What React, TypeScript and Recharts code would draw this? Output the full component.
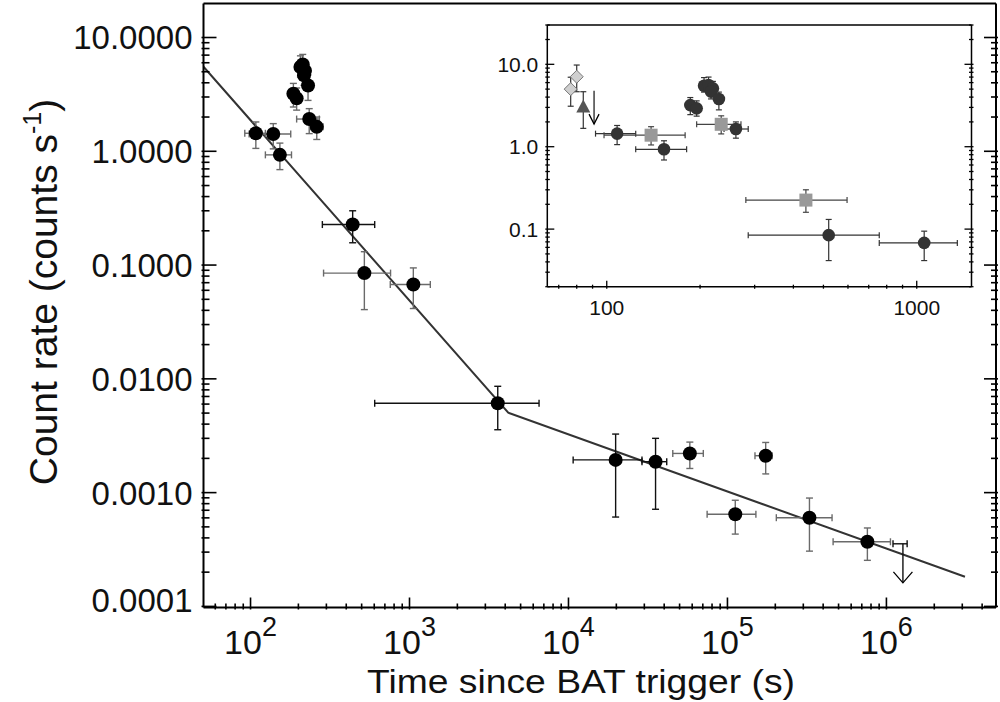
import React from "react";
import { ComposedChart, Scatter, Line, XAxis, YAxis, ErrorBar } from "recharts";

// ---------- main light curve ----------
// points drawn with black error bars
const kTime = [439, 3590, 19800, 35300];
const kTimeLo = [283, 604, 10700, 29000];
const kTimeHi = [604, 6530, 29000, 41500];
const kRate = [0.227, 0.0061, 0.00194, 0.00187];
const kRateLo = [0.157, 0.00357, 0.00061, 0.000714];
const kRateHi = [0.3, 0.0086, 0.00327, 0.003];

// points drawn with grey error bars
const gTime = [108, 139, 153, 186, 195, 206, 213, 220, 217, 230, 234, 261, 520, 1057, 58000, 112000, 174000, 328000, 759000];
const gTimeLo = [92, 98, 124, 186, 195, 206, 213, 220, 217, 230, 195, 239, 288, 757, 45300, 74500, 149000, 203000, 462000];
const gTimeHi = [124, 179, 181, 186, 195, 206, 213, 220, 217, 230, 271, 286, 760, 1352, 70500, 151000, 191000, 455000, 1060000];
const gRate = [1.44, 1.42, 0.93, 3.2, 2.92, 5.5, 5.8, 5.1, 4.66, 3.79, 1.92, 1.64, 0.085, 0.0675, 0.00221, 0.000645, 0.00211, 0.000602, 0.00037];
const gRateLo = [1.06, 1.05, 0.69, 2.45, 2.3, 4.5, 4.8, 4.2, 3.8, 2.8, 1.43, 1.27, 0.0406, 0.0415, 0.00163, 0.000432, 0.00146, 0.000306, 0.000254];
const gRateHi = [1.81, 1.75, 1.18, 3.95, 3.6, 6.9, 7.1, 6.2, 5.6, 4.7, 2.37, 2.0, 0.131, 0.0944, 0.00278, 0.000857, 0.00276, 0.000896, 0.000489];

// upper limit
const ulTime = [1270000];
const ulTimeLo = [1100000];
const ulTimeHi = [1350000];
const ulTop = [0.000355];
const ulTip = [0.000161];

// broken power-law fit
const fitTime = [50.6, 4180, 3120000];
const fitRate = [5.53, 0.00504, 0.000182];

const xMajors = [100, 1000, 10000, 100000, 1000000];
const xMajorExp = ["2", "3", "4", "5", "6"];
const yMajors = [0.0001, 0.001, 0.01, 0.1, 1, 10];
const yMajorLabels = ["0.0001", "0.0010", "0.0100", "0.1000", "1.0000", "10.0000"];

// ---------- inset ----------
const iCirT = [108, 153, 186, 195, 206, 213, 220, 217, 230, 261, 520, 1057];
const iCirTLo = [92, 124, 186, 195, 206, 213, 220, 217, 230, 239, 286, 757];
const iCirTHi = [124, 181, 186, 195, 206, 213, 220, 217, 230, 286, 757, 1352];
const iCirR = [1.44, 0.93, 3.2, 2.92, 5.5, 5.6, 5.1, 4.66, 3.79, 1.64, 0.0845, 0.068];
const iCirRLo = [1.06, 0.69, 2.45, 2.35, 4.6, 4.7, 4.2, 3.8, 2.8, 1.27, 0.0415, 0.0415];
const iCirRHi = [1.81, 1.18, 3.95, 3.6, 6.9, 7.0, 6.2, 5.6, 4.6, 2.0, 0.131, 0.0944];

const iSqT = [139, 234, 439];
const iSqTLo = [98, 195, 281];
const iSqTHi = [179, 271, 596];
const iSqR = [1.38, 1.87, 0.225];
const iSqRLo = [1.05, 1.43, 0.16];
const iSqRHi = [1.75, 2.37, 0.3];

const iDiaT = [76.5, 80];
const iDiaR = [5.0, 7.07];
const iDiaRLo = [3.1, 4.65];
const iDiaRHi = [6.97, 9.8];

const iTriT = [84];
const iTriR = [3.0];
const iTriRLo = [1.67];
const iTriRHi = [4.65];

const iUlT = [91];
const iUlTop = [4.78];
const iUlTip = [1.88];

const iXMajors = [100, 1000];
const iXLabels = ["100", "1000"];
const iYMajors = [0.1, 1, 10];
const iYLabels = ["0.1", "1.0", "10.0"];

const X_DOM: [number, number] = [50.6, 4890000];
const Y_DOM: [number, number] = [0.0000978, 19.9];
const IX_DOM: [number, number] = [64.3, 1502];
const IY_DOM: [number, number] = [0.02, 30];

const rows = (t: number[], tl: number[], th: number[], r: number[], rl: number[], rh: number[]) =>
  t.map((x, i) => ({ x, y: r[i], ex: [x - tl[i], th[i] - x], ey: [r[i] - rl[i], rh[i] - r[i]] }));

const logTicks = (lo: number, hi: number) => {
  const out: number[] = [];
  for (let e = Math.floor(Math.log10(lo)); e <= Math.ceil(Math.log10(hi)); e++) {
    for (let m = 1; m < 10; m++) {
      const v = +(m * Math.pow(10, e)).toPrecision(6);
      if (v >= lo && v <= hi) out.push(v);
    }
  }
  return out;
};

const findIdx = (arr: number[], v: number) => arr.findIndex((a) => Math.abs(v / a - 1) < 1e-6);

const makeTick = (side: "b" | "t" | "l" | "r", major: number, minor: number, majors: number[], labels?: (i: number, x: number, y: number) => React.ReactNode, sw = 1.6) =>
  (p: any) => {
    const { x, y, payload } = p;
    const i = findIdx(majors, payload.value);
    const len = i >= 0 ? major : minor;
    let x2 = x, y2 = y;
    if (side === "b") y2 = y - len;
    if (side === "t") y2 = y + len;
    if (side === "l") x2 = x + len;
    if (side === "r") x2 = x - len;
    return (
      <g>
        <line x1={x} y1={y} x2={x2} y2={y2} stroke="#000" strokeWidth={sw} />
        {i >= 0 && labels ? labels(i, x, y) : null}
      </g>
    );
  };

const mainBottom = makeTick("b", 12, 6, xMajors, (i, x, y) => (
  <text x={x} y={y + 44} textAnchor="middle" fontSize={34} fill="#111">
    10<tspan dy={-18} fontSize={27}>{xMajorExp[i]}</tspan>
  </text>
));
const mainTop = makeTick("t", 12, 6, xMajors);
const mainLeft = makeTick("l", 15, 8, yMajors, (i, x, y) => (
  <text x={x - 9} y={i === 0 ? y - 6 : y} dy="0.36em" textAnchor="end" fontSize={33} fill="#111">
    {yMajorLabels[i]}
  </text>
));
const mainRight = makeTick("r", 14, 7, yMajors);

const insetBottom = makeTick("b", 8, 4, iXMajors, (i, x, y) => (
  <text x={x} y={y + 26} textAnchor="middle" fontSize={21} fill="#111">
    {iXLabels[i]}
  </text>
), 1.3);
const insetTop = makeTick("t", 8, 4, iXMajors, undefined, 1.3);
const insetLeft = makeTick("l", 9, 4.5, iYMajors, (i, x, y) => (
  <text x={x - 7} y={y} dy="0.36em" textAnchor="end" fontSize={21} fill="#111">
    {iYLabels[i]}
  </text>
), 1.3);
const insetRight = makeTick("r", 9, 4.5, iYMajors, undefined, 1.3);

const dot = (r: number, fill: string) => (p: any) => <circle cx={p.cx} cy={p.cy} r={r} fill={fill} />;
const square = (p: any) => <rect x={p.cx - 6.5} y={p.cy - 6.5} width={13} height={13} fill="#999" />;
const diamond = (p: any) => (
  <polygon points={`${p.cx},${p.cy - 6.5} ${p.cx + 6.5},${p.cy} ${p.cx},${p.cy + 6.5} ${p.cx - 6.5},${p.cy}`} fill="#cfcfcf" stroke="#777" strokeWidth={1} />
);
const triangle = (p: any) => (
  <polygon points={`${p.cx},${p.cy - 8} ${p.cx + 7},${p.cy + 5} ${p.cx - 7},${p.cy + 5}`} fill="#555" />
);
const none = () => <g />;
const arrowHead = (w: number, h: number) => (p: any) => (
  <polyline points={`${p.cx - w},${p.cy - h} ${p.cx},${p.cy} ${p.cx + w},${p.cy - h}`} fill="none" stroke="#000" strokeWidth={1.3} />
);

const kRows = rows(kTime, kTimeLo, kTimeHi, kRate, kRateLo, kRateHi);
const gRows = rows(gTime, gTimeLo, gTimeHi, gRate, gRateLo, gRateHi);
const ulRows = ulTime.map((x, i) => ({ x, y: ulTop[i], ex: [x - ulTimeLo[i], ulTimeHi[i] - x], ey: [ulTop[i] - ulTip[i], 0] }));
const ulTipRows = ulTime.map((x, i) => ({ x, y: ulTip[i] }));
const fitRows = fitTime.map((x, i) => ({ x, y: fitRate[i] }));

const iCirRows = rows(iCirT, iCirTLo, iCirTHi, iCirR, iCirRLo, iCirRHi);
const iSqRows = rows(iSqT, iSqTLo, iSqTHi, iSqR, iSqRLo, iSqRHi);
const iDiaRows = rows(iDiaT, iDiaT, iDiaT, iDiaR, iDiaRLo, iDiaRHi);
const iTriRows = rows(iTriT, iTriT, iTriT, iTriR, iTriRLo, iTriRHi);
const iUlRows = iUlT.map((x, i) => ({ x, y: iUlTop[i], ey: [iUlTop[i] - iUlTip[i], 0] }));
const iUlTipRows = iUlT.map((x, i) => ({ x, y: iUlTip[i] }));

const frame = { stroke: "#000", strokeWidth: 2 };
const iframe = { stroke: "#000", strokeWidth: 1.5 };

function MainChart() {
  const xt = logTicks(X_DOM[0], X_DOM[1]);
  const yt = logTicks(Y_DOM[0], Y_DOM[1]);
  const ax = { type: "number" as const, scale: "log" as const, allowDataOverflow: true, interval: 0 as const, tickSize: 0, tickLine: false };
  return (
    <ComposedChart width={1000} height={702} margin={{ top: 2.5, right: 3, bottom: 93.5, left: 202.5 }}>
      <XAxis xAxisId="b" dataKey="x" {...ax} domain={X_DOM} ticks={xt} height={1} tick={mainBottom} axisLine={frame} />
      <XAxis xAxisId="t" orientation="top" {...ax} domain={X_DOM} ticks={xt} height={1} tick={mainTop} axisLine={frame} />
      <YAxis yAxisId="l" dataKey="y" {...ax} domain={Y_DOM} ticks={yt} width={1} tick={mainLeft} axisLine={frame} />
      <YAxis yAxisId="r" orientation="right" {...ax} domain={Y_DOM} ticks={yt} width={1} tick={mainRight} axisLine={frame} />
      <Line xAxisId="b" yAxisId="l" data={fitRows} dataKey="y" type="linear" stroke="#333" strokeWidth={2} dot={false} isAnimationActive={false} />
      <Scatter xAxisId="b" yAxisId="l" data={gRows} shape={dot(7, "#000")} isAnimationActive={false}>
        <ErrorBar dataKey="ex" direction="x" width={3.5} stroke="#6a6a6a" strokeWidth={1.4} />
        <ErrorBar dataKey="ey" direction="y" width={3.5} stroke="#6a6a6a" strokeWidth={1.4} />
      </Scatter>
      <Scatter xAxisId="b" yAxisId="l" data={kRows} shape={dot(7, "#000")} isAnimationActive={false}>
        <ErrorBar dataKey="ex" direction="x" width={3.5} stroke="#111" strokeWidth={1.4} />
        <ErrorBar dataKey="ey" direction="y" width={3.5} stroke="#111" strokeWidth={1.4} />
      </Scatter>
      <Scatter xAxisId="b" yAxisId="l" data={ulRows} shape={none} isAnimationActive={false}>
        <ErrorBar dataKey="ex" direction="x" width={3.5} stroke="#111" strokeWidth={1.4} />
        <ErrorBar dataKey="ey" direction="y" width={0} stroke="#111" strokeWidth={1.4} />
      </Scatter>
      <Scatter xAxisId="b" yAxisId="l" data={ulTipRows} shape={arrowHead(9.5, 11)} isAnimationActive={false} />
    </ComposedChart>
  );
}

function InsetChart() {
  const xt = logTicks(IX_DOM[0], IX_DOM[1]);
  const yt = logTicks(IY_DOM[0], IY_DOM[1]);
  const ax = { type: "number" as const, scale: "log" as const, allowDataOverflow: true, interval: 0 as const, tickSize: 0, tickLine: false };
  return (
    <ComposedChart width={520} height={320} margin={{ top: 14, right: 17.5, bottom: 42.3, left: 76.3 }}>
      <XAxis xAxisId="b" dataKey="x" {...ax} domain={IX_DOM} ticks={xt} height={1} tick={insetBottom} axisLine={iframe} />
      <XAxis xAxisId="t" orientation="top" {...ax} domain={IX_DOM} ticks={xt} height={1} tick={insetTop} axisLine={iframe} />
      <YAxis yAxisId="l" dataKey="y" {...ax} domain={IY_DOM} ticks={yt} width={1} tick={insetLeft} axisLine={iframe} />
      <YAxis yAxisId="r" orientation="right" {...ax} domain={IY_DOM} ticks={yt} width={1} tick={insetRight} axisLine={iframe} />
      <Scatter xAxisId="b" yAxisId="l" data={iDiaRows} shape={diamond} isAnimationActive={false}>
        <ErrorBar dataKey="ey" direction="y" width={3} stroke="#333" strokeWidth={1.2} />
      </Scatter>
      <Scatter xAxisId="b" yAxisId="l" data={iTriRows} shape={triangle} isAnimationActive={false}>
        <ErrorBar dataKey="ey" direction="y" width={3} stroke="#333" strokeWidth={1.2} />
      </Scatter>
      <Scatter xAxisId="b" yAxisId="l" data={iUlRows} shape={none} isAnimationActive={false}>
        <ErrorBar dataKey="ey" direction="y" width={0} stroke="#111" strokeWidth={1.2} />
      </Scatter>
      <Scatter xAxisId="b" yAxisId="l" data={iUlTipRows} shape={arrowHead(5, 10)} isAnimationActive={false} />
      <Scatter xAxisId="b" yAxisId="l" data={iCirRows} shape={dot(6.3, "#333")} isAnimationActive={false}>
        <ErrorBar dataKey="ex" direction="x" width={3} stroke="#333" strokeWidth={1.2} />
        <ErrorBar dataKey="ey" direction="y" width={3} stroke="#333" strokeWidth={1.2} />
      </Scatter>
      <Scatter xAxisId="b" yAxisId="l" data={iSqRows} shape={square} isAnimationActive={false}>
        <ErrorBar dataKey="ex" direction="x" width={3} stroke="#444" strokeWidth={1.2} />
        <ErrorBar dataKey="ey" direction="y" width={3} stroke="#444" strokeWidth={1.2} />
      </Scatter>
    </ComposedChart>
  );
}

export default function App() {
  return (
    <div style={{ position: "absolute", left: 0, top: 0, width: 1000, height: 702, background: "#fff", fontFamily: "'Liberation Sans', Arial, sans-serif" }}>
      <div style={{ position: "absolute", left: 0, top: 0 }}>
        <MainChart />
      </div>
      <div style={{ position: "absolute", left: 470, top: 10 }}>
        <InsetChart />
      </div>
      <svg width={1000} height={702} style={{ position: "absolute", left: 0, top: 0, pointerEvents: "none" }}>
        <text x={581} y={693} textAnchor="middle" fontSize={34} textLength={428} lengthAdjust="spacingAndGlyphs" fill="#111">
          Time since BAT trigger (s)
        </text>
        <text transform="translate(57,292) rotate(-90)" textAnchor="middle" fontSize={39} fill="#111">
          Count rate (counts s<tspan dy={-16} fontSize={25}>-1</tspan>
          <tspan dy={16}>)</tspan>
        </text>
      </svg>
    </div>
  );
}
